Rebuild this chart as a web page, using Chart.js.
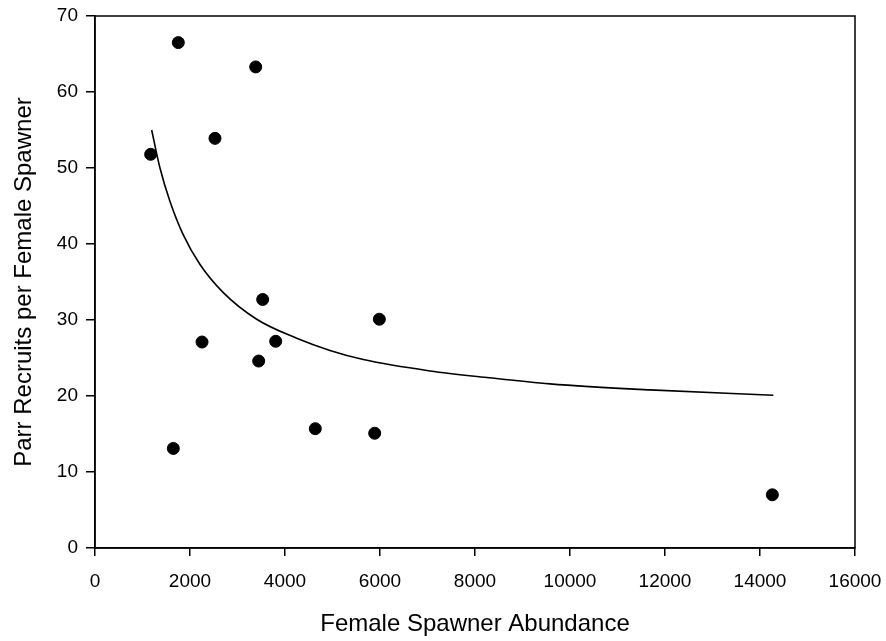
<!DOCTYPE html>
<html>
<head>
<meta charset="utf-8">
<script src="https://cdn.jsdelivr.net/npm/chart.js@4.4.1/dist/chart.umd.min.js"></script>
<style>
  html, body { margin: 0; padding: 0; background: #fff; }
  #wrap { width: 886px; height: 641px; position: relative; }
</style>
</head>
<body>
<div id="wrap"><canvas id="c" width="886" height="641"></canvas></div>
<script>
// Observed data: female spawner abundance vs parr recruits per female spawner
const spawnerAbundance = [1172, 1754, 1649, 2253, 2526, 3383, 3446, 3530, 3804, 5986, 4638, 5888, 14260];
const recruitsPerSpawner = [51.8, 66.5, 13.1, 27.1, 53.9, 63.3, 24.6, 32.7, 27.2, 30.1, 15.7, 15.1, 7.0];

// Fitted curve
const curveX = [1193, 1368, 1579, 1859, 2211, 2701, 3404, 4246, 4947, 5649, 7053, 8300, 9579, 11684, 14281];
const curveY = [55.0, 50.0, 45.6, 41.2, 37.3, 33.6, 30.1, 27.6, 26.0, 24.8, 23.3, 22.4, 21.6, 20.8, 20.1];

const xTicks = [0, 2000, 4000, 6000, 8000, 10000, 12000, 14000, 16000];
const yTicks = [0, 10, 20, 30, 40, 50, 60, 70];

const xTitle = 'Female Spawner Abundance';
const yTitle = 'Parr Recruits per Female Spawner';

const FONT = '"Liberation Sans", Arial, Helvetica, sans-serif';

const scatterPts = spawnerAbundance.map((x, i) => ({ x: x, y: recruitsPerSpawner[i] }));
const curvePts = curveX.map((x, i) => ({ x: x, y: curveY[i] }));

const framePlugin = {
  id: 'frame',
  afterDraw(chart) {
    const a = chart.chartArea;
    const ctx = chart.ctx;
    ctx.save();
    ctx.strokeStyle = '#000';
    ctx.lineWidth = 1.5;
    ctx.strokeRect(a.left, a.top, a.right - a.left, a.bottom - a.top);
    ctx.restore();
  }
};

new Chart(document.getElementById('c'), {
  type: 'scatter',
  data: {
    datasets: [
      {
        type: 'line',
        data: curvePts,
        borderColor: '#000',
        borderWidth: 1.6,
        pointRadius: 0,
        fill: false,
        cubicInterpolationMode: 'monotone'
      },
      {
        type: 'scatter',
        data: scatterPts,
        backgroundColor: '#000',
        borderColor: '#000',
        pointRadius: 6,
        pointHoverRadius: 6
      }
    ]
  },
  options: {
    responsive: false,
    animation: false,
    devicePixelRatio: 1,
    layout: { padding: { top: 16, right: 31, left: 0, bottom: 0 } },
    plugins: {
      legend: { display: false },
      tooltip: { enabled: false }
    },
    scales: {
      x: {
        type: 'linear',
        min: 0,
        max: 16000,
        afterBuildTicks(scale) { scale.ticks = xTicks.map(v => ({ value: v })); },
        afterFit(scale) {
          scale.height = 641 - 548;
          scale.paddingLeft = 0; scale.paddingRight = 0;
        },
        grid: { drawOnChartArea: false, drawTicks: true, tickLength: 8, color: '#000', lineWidth: 1.5 },
        border: { display: true, color: '#000', width: 1.5 },
        ticks: {
          color: '#000',
          font: { family: FONT, size: 19 },
          padding: 14,
          maxRotation: 0,
          callback: v => String(v)
        },
        title: {
          display: true,
          text: xTitle,
          color: '#000',
          font: { family: FONT, size: 24 },
          padding: { top: 0, bottom: 2 }
        }
      },
      y: {
        type: 'linear',
        min: 0,
        max: 70,
        afterBuildTicks(scale) { scale.ticks = yTicks.map(v => ({ value: v })); },
        afterFit(scale) {
          scale.width = 95;
          scale.paddingTop = 0; scale.paddingBottom = 0;
        },
        grid: { drawOnChartArea: false, drawTicks: true, tickLength: 9, color: '#000', lineWidth: 1.5 },
        border: { display: true, color: '#000', width: 1.5 },
        ticks: {
          color: '#000',
          font: { family: FONT, size: 19 },
          padding: 8,
          callback: v => String(v)
        },
        title: {
          display: true,
          text: yTitle,
          color: '#000',
          font: { family: FONT, size: 24 },
          padding: { top: 10, bottom: 0 }
        }
      }
    }
  },
  plugins: [framePlugin]
});
</script>
</body>
</html>
